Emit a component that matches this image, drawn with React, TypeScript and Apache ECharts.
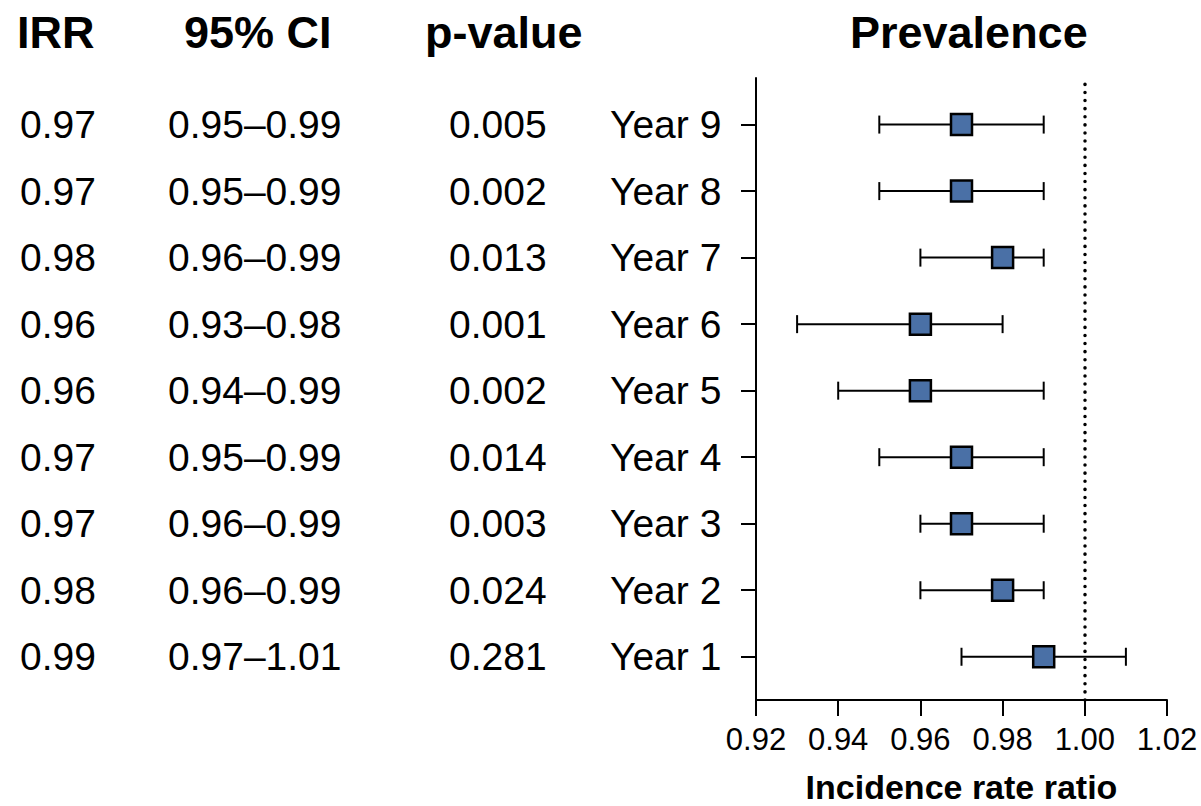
import React, { useEffect, useRef } from "react";
import * as echarts from "echarts";

const years = ["Year 1", "Year 2", "Year 3", "Year 4", "Year 5", "Year 6", "Year 7", "Year 8", "Year 9"];
const rowPos = [1, 2, 3, 4, 5, 6, 7, 8, 9];
const irr = [0.99, 0.98, 0.97, 0.97, 0.96, 0.96, 0.98, 0.97, 0.97];
const ciLow = [0.97, 0.96, 0.96, 0.95, 0.94, 0.93, 0.96, 0.95, 0.95];
const ciHigh = [1.01, 0.99, 0.99, 0.99, 0.99, 0.98, 0.99, 0.99, 0.99];
const pValues = ["0.281", "0.024", "0.003", "0.014", "0.002", "0.001", "0.013", "0.002", "0.005"];
const xTicks = [0.92, 0.94, 0.96, 0.98, 1.0, 1.02];
const headers = ["IRR", "95% CI", "p-value", "Prevalence"];
const refLine = 1.0;

const FONT = "'Liberation Sans', Arial, sans-serif";

export default function App() {
  const ref = useRef<HTMLDivElement>(null);
  useEffect(() => {
    if (!ref.current) return;
    const chart = echarts.init(ref.current, undefined, { renderer: "svg" });
    const fmt = (v: number) => v.toFixed(2);
    const hdr = (text: string, left: number) => ({
      type: "text",
      left,
      top: 10,
      style: { text, font: `bold 45px ${FONT}`, fill: "#000" },
    });
    const option: any = {
      animation: false,
      backgroundColor: "#ffffff",
      textStyle: { fontFamily: FONT },
      grid: { left: 756, right: 34, top: 78, bottom: 106, containLabel: false, outerBoundsMode: "none" },
      graphic: [hdr(headers[0], 17), hdr(headers[1], 184), hdr(headers[2], 425), hdr(headers[3], 850)],
      xAxis: {
        type: "value",
        min: xTicks[0],
        max: xTicks[xTicks.length - 1],
        interval: 0.02,
        name: "Incidence rate ratio",
        nameLocation: "middle",
        nameGap: 70,
        nameTextStyle: { fontFamily: FONT, fontWeight: "bold", fontSize: 34, lineHeight: 34, color: "#000" },
        axisLine: { show: true, onZero: false, lineStyle: { color: "#000", width: 2 } },
        axisTick: { show: true, length: 16, lineStyle: { color: "#000", width: 2 } },
        axisLabel: { fontFamily: FONT, fontSize: 31, color: "#000", margin: 24, formatter: (v: number) => fmt(v) },
        splitLine: { show: false },
      },
      yAxis: {
        type: "value",
        min: 0.35,
        max: 9.7,
        axisLine: { show: true, lineStyle: { color: "#000", width: 2 } },
        axisTick: { show: true, length: 15, customValues: rowPos, lineStyle: { color: "#000", width: 2 } },
        splitLine: { show: false },
        axisLabel: {
          customValues: rowPos,
          margin: 36,
          formatter: (v: number) => {
            const i = rowPos.indexOf(Math.round(v));
            if (i < 0) return "";
            return `{a|${fmt(irr[i])}}{b|${fmt(ciLow[i])}–${fmt(ciHigh[i])}}{c|${pValues[i]}}{d|${years[i]}}`;
          },
          rich: {
            a: { width: 148, align: "left", fontSize: 39, fontFamily: FONT, color: "#000" },
            b: { width: 281, align: "left", fontSize: 39, fontFamily: FONT, color: "#000" },
            c: { width: 161, align: "left", fontSize: 39, fontFamily: FONT, color: "#000" },
            d: { width: 110, align: "left", fontSize: 39, fontFamily: FONT, color: "#000" },
          },
        },
      },
      series: [
        {
          type: "custom",
          data: irr.map((_, i) => [ciLow[i], ciHigh[i], rowPos[i]]),
          encode: { x: [0, 1], y: 2 },
          z: 2,
          silent: true,
          renderItem: (_p: any, api: any) => {
            const lo = api.coord([api.value(0), api.value(2)]);
            const hi = api.coord([api.value(1), api.value(2)]);
            const h = 9;
            const style = { stroke: "#000", lineWidth: 2 };
            return {
              type: "group",
              children: [
                { type: "line", shape: { x1: lo[0], y1: lo[1], x2: hi[0], y2: hi[1] }, style },
                { type: "line", shape: { x1: lo[0], y1: lo[1] - h, x2: lo[0], y2: lo[1] + h }, style },
                { type: "line", shape: { x1: hi[0], y1: hi[1] - h, x2: hi[0], y2: hi[1] + h }, style },
              ],
            };
          },
        },
        {
          type: "scatter",
          data: irr.map((v, i) => [v, rowPos[i]]),
          symbol: "rect",
          symbolSize: 21,
          z: 3,
          itemStyle: { color: "#4a70a6", borderColor: "#000", borderWidth: 2.5, opacity: 1 },
          markLine: {
            silent: true,
            symbol: "none",
            label: { show: false },
            lineStyle: { color: "#000", width: 3.5, type: [0.1, 8], cap: "round" },
            data: [{ xAxis: refLine }],
          },
        },
      ],
    };
    chart.setOption(option);
    return () => chart.dispose();
  }, []);
  return <div ref={ref} style={{ position: "absolute", left: 0, top: 0, width: 1201, height: 806 }} />;
}
